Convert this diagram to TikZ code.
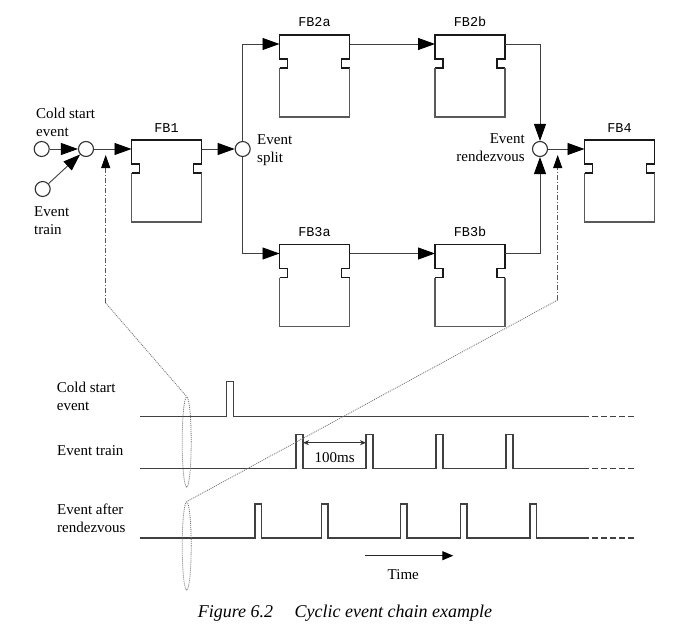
\documentclass[tikz,border=0pt]{standalone}
\usepackage{fontspec}
\setmainfont{Liberation Serif}
\setmonofont{Liberation Mono}
\usetikzlibrary{arrows.meta,calc,shapes.geometric}

% outline of a function block: heavy head with side notches, lighter body
\newcommand{\fbshape}[2]{%
  \draw[fbtop] ($(#1.north west)+(0,33)$) -- ++(8,0) -- ++(0,-9) -- ++(-8,0)
     -- (#1.north west) -- (#1.north east) -- ++(0,24) -- ++(-8,0) -- ++(0,9) -- ++(8,0);
  \draw[fbbot] ($(#1.north west)+(0,33)$) -- (#1.south west) -- (#1.south east)
     -- ($(#1.north east)+(0,33)$);
  \node[fbname] (#1-name) at ($(#1.north)+(0,-8)$) {#2};
}

\begin{document}
\begin{tikzpicture}[x=1pt,y=-1pt,
  txt/.style={font=\fontsize{15}{18}\selectfont,inner sep=0pt},
  lbl/.style={txt,align=left,anchor=base west},
  fbbox/.style={draw=none,minimum width=70pt,minimum height=82pt,inner sep=0pt,outer sep=0pt},
  fbname/.style={font=\ttfamily\fontsize{13.5}{14}\selectfont,anchor=base,inner sep=0pt},
  fbtop/.style={draw=black!90,line width=1.6pt,line join=miter},
  fbbot/.style={draw=black!65,line width=1.1pt},
  evt/.style={circle,draw=black!80,line width=1.1pt,minimum size=15pt,inner sep=0pt},
  conn/.style={draw=black!75,line width=0.9pt},
  bigtip/.style={-{Triangle[length=17pt,width=12pt,color=black]}},
  ddash/.style={draw=black!65,line width=0.8pt,dash pattern=on 5pt off 2pt on 1pt off 2pt},
  dots/.style={draw=black!55,line width=0.8pt,dash pattern=on 1pt off 1pt},
  wave/.style={draw=black!75,line width=1.1pt,line join=miter},
  tail/.style={wave,dash pattern=on 6pt off 3pt},
]
\fill[white] (0,0) rectangle (673,634);
\useasboundingbox (0,0) rectangle (673,634);

% ---------- function blocks ----------
\node[fbbox] (fb1)  at (166.5,181) {};
\node[fbbox] (fb2a) at (314.5,76)  {};
\node[fbbox] (fb2b) at (470,76)    {};
\node[fbbox] (fb3a) at (314.5,285.5) {};
\node[fbbox] (fb3b) at (470,285.5) {};
\node[fbbox] (fb4)  at (619.5,181) {};
\fbshape{fb1}{FB1}
\fbshape{fb2a}{FB2a}
\fbshape{fb2b}{FB2b}
\fbshape{fb3a}{FB3a}
\fbshape{fb3b}{FB3b}
\fbshape{fb4}{FB4}

% ---------- event points ----------
\node[evt] (cs) at (41.7,149) {};
\node[evt] (mg) at (86,149) {};
\node[evt] (et) at (42.7,189) {};
\node[evt] (sp) at (242.7,149) {};
\node[evt] (rv) at (540,149) {};

% (base of a two-line label = baseline of its last line)
\node[lbl] (cslbl) at (36,136.5) {Cold start\\event};
\node[lbl] (etlbl) at (34,234) {Event\\train};
\node[lbl] (splbl) at (257,163) {Event\\split};
\node[txt,align=right,anchor=base east] (rvlbl) at (525,161.5) {Event\\rendezvous};

% ---------- event flow ----------
\draw[conn,bigtip] (cs) -- (mg);
\draw[conn,bigtip] (et) -- (mg);
\draw[conn,bigtip] (mg) -- ($(fb1.north west)+(0,9)$);
\draw[conn,bigtip] ($(fb1.north east)+(0,9)$) -- (sp);
\draw[conn,bigtip] (sp.north) |- ($(fb2a.north west)+(0,9)$);
\draw[conn,bigtip] (sp.south) |- ($(fb3a.north west)+(0,9)$);
\draw[conn,bigtip] ($(fb2a.north east)+(0,9)$) -- ($(fb2b.north west)+(0,9)$);
\draw[conn,bigtip] ($(fb3a.north east)+(0,9)$) -- ($(fb3b.north west)+(0,9)$);
\draw[conn,bigtip] ($(fb2b.north east)+(0,9)$) -| (rv.north);
\draw[conn,bigtip] ($(fb3b.north east)+(0,9)$) -| (rv.south);
\draw[conn,bigtip] (rv) -- ($(fb4.north west)+(0,9)$);

% ---------- timing chart ----------
\node[lbl] (tcs) at (56.7,410) {Cold start\\event};
\node[lbl] (tet) at (57,455) {Event train};
\node[lbl] (tar) at (57,532.5) {Event after\\rendezvous};

% cold start: one pulse
\draw[wave] (140,416.7) -- (226.7,416.7) -- (226.7,381.7) -- (233.3,381.7)
   -- (233.3,416.7) -- (583,416.7);
\draw[tail] (583,416.7) -- (635,416.7);
% event train: every 100 ms
\draw[wave] (140,468.5) \foreach \p in {296,366,436,506}{
   -- (\p,468.5) -- (\p,434.3) -- (\p+7,434.3) -- (\p+7,468.5)} -- (583,468.5);
\draw[tail] (583,468.5) -- (635,468.5);
% after rendezvous
\draw[wave] (140,538) \foreach \p in {255,321.5,400.5,460.5,530}{
   -- (\p,538) -- (\p,504) -- (\p+6.5,504) -- (\p+6.5,538)} -- (583,538);
\draw[tail] (583,538) -- (635,538);

% period marker
\coordinate (pA) at (303,442.7);
\coordinate (pB) at (366,442.7);
\draw[draw=black!80,line width=0.8pt,{Stealth[length=6pt,width=5pt]}-{Stealth[length=6pt,width=5pt]}] (pA) -- (pB);
\node[txt,anchor=base] (period) at (334.7,462.7) {100ms};

% time axis
\coordinate (tA) at (365,555.7);
\coordinate (tB) at (453.3,555.7);
\draw[draw=black!85,line width=1pt,-{Triangle[length=11pt,width=9pt,color=black]}] (tA) -- (tB);
\node[txt,anchor=base] (timelbl) at (403.3,579.3) {Time};

% ---------- links between chart and chain ----------
\node[ellipse,dots,minimum width=9pt,minimum height=90pt,inner sep=0pt] (e1) at (186.7,442) {};
\node[ellipse,dots,minimum width=9pt,minimum height=88pt,inner sep=0pt] (e2) at (186.7,546) {};
\coordinate (d1) at (105.7,303);
\coordinate (d1tip) at (105.7,155);
\coordinate (d2) at (557.7,300);
\coordinate (d2tip) at (557.7,155);
\draw[ddash,-{Triangle[length=13pt,width=9pt,color=black]}] (d1) -- (d1tip);
\draw[ddash,-{Triangle[length=13pt,width=9pt,color=black]}] (d2) -- (d2tip);
\draw[dots] (d1) -- (e1.north);
\draw[dots] (d2) -- (e2.north);

% ---------- caption ----------
\node[font=\itshape\fontsize{18}{20}\selectfont,anchor=base,inner sep=0pt] (cap) at (345,617.3)
  {Figure 6.2\hspace{17pt} Cyclic event chain example};
\end{tikzpicture}
\end{document}
